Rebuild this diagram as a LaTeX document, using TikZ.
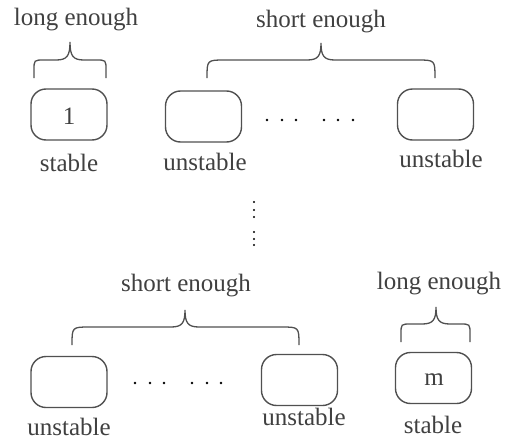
\documentclass[tikz,border=0pt]{standalone}
\usepackage{fontspec}
\setmainfont{Liberation Serif}
\definecolor{txt}{HTML}{404040}
\definecolor{ln}{HTML}{505050}
\newcommand\mybrc[7]{% x0 x1 xt yb yh yt r
  \draw[bracestyle] (#1,#4) -- (#1,{#5+#7}) .. controls (#1,#5) .. ({#1+#7},#5)
    -- ({#3-14},#5) .. controls ({#3-3},#5) and (#3,{#5-4}) .. (#3,#6)
    .. controls (#3,{#5-4}) and ({#3+3},#5) .. ({#3+14},#5)
    -- ({#2-#7},#5) .. controls (#2,#5) .. (#2,{#5+#7}) -- (#2,#4);}
\begin{document}
\begin{tikzpicture}[x=1pt,y=-1pt,
  box/.style={draw=ln,line width=1.4pt,rounded corners=15pt,minimum width=76pt,minimum height=51pt,inner sep=0pt,text=txt,font=\fontsize{25}{30}\selectfont},
  lbl/.style={anchor=base,text=txt,inner sep=0pt,font=\fontsize{25}{30}\selectfont},
  bracestyle/.style={draw=ln,line width=1.3pt},
  dot/.style={fill=black,draw=none}]
\useasboundingbox (0,0) rectangle (512,442);
% boxes
\node[box] (b1) at (69,114.5) {};
\node[lbl] (n1) at (69,124) {1};
\node[box] (b2) at (203.5,116.5) {};
\node[box] (b3) at (435.5,114.5) {};
\node[box] (b4) at (69,382) {};
\node[box] (b5) at (299.5,380) {};
\node[box] (b6) at (433.5,378) {};
\node[lbl] (nm) at (434,385) {m};
% labels
\node[lbl] (l1) at (69,171) {stable};
\node[lbl] (l2) at (205,170) {unstable};
\node[lbl] (l3) at (441,167) {unstable};
\node[lbl] (l4) at (69,435) {unstable};
\node[lbl] (l5) at (304,425) {unstable};
\node[lbl] (l6) at (433,433) {stable};
\node[lbl] (t1) at (76,25) {long enough};
\node[lbl] (t2) at (321,27) {short enough};
\node[lbl] (t3) at (186,291) {short enough};
\node[lbl] (t4) at (439,289) {long enough};
% braces
\mybrc{34}{106}{70}{78}{60}{42}{10}
\mybrc{207}{435}{321}{78}{60}{43}{18}
\mybrc{72}{299}{185}{343}{327}{310}{18}
\mybrc{401}{470}{436}{342}{324}{307}{10}
% dots
\foreach \x in {267,282,296,324,338,353} \fill[dot] (\x,120) circle (1.4pt);
\foreach \x in {135,150,164,192,207,221} \fill[dot] (\x,383) circle (1.4pt);
\foreach \y in {202,210,217,232,239,245} \fill[dot] (254,\y) circle (1.2pt);
\end{tikzpicture}
\end{document}
